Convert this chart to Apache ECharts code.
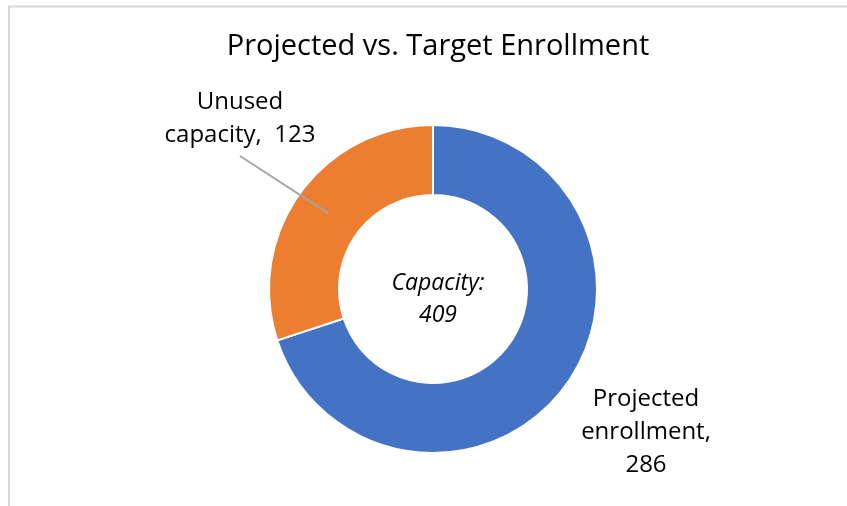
<!DOCTYPE html>
<html><head><meta charset="utf-8">
<script src="https://cdn.jsdelivr.net/npm/echarts@6/dist/echarts.min.js"></script>
<style>html,body{margin:0;padding:0;background:#fff}#c{width:847px;height:506px}</style>
</head><body><div id="c"></div>
<script>
const titleText = 'Projected vs. Target Enrollment';
const categories = ['Projected enrollment', 'Unused capacity'];
const values = [286, 123];
const colors = ['#4472C4', '#ED7D31'];
const centerLabel = 'Capacity:';
const FONT = 'Open Sans';

const total = values.reduce((a, b) => a + b, 0);
const CX = 433, CY = 289, R0 = 94, R1 = 164;
const LABEL_POS = [[646, 432], [240, 119]];

// leader line for the "Unused capacity" slice: from mid-ring along slice mid-angle to below its label
const idx = 1;
const before = values.slice(0, idx).reduce((a, b) => a + b, 0);
const midDeg = 90 - 360 * (before + values[idx] / 2) / total;
const rad = midDeg * Math.PI / 180, rm = (R0 + R1) / 2;
const lineStart = [CX + Math.cos(rad) * rm, CY - Math.sin(rad) * rm];
const lineEnd = [LABEL_POS[idx][0], LABEL_POS[idx][1] + 37];

const chart = echarts.init(document.getElementById('c'));
chart.setOption({
  backgroundColor: '#fff',
  animation: false,
  title: [{
    text: titleText, left: CX, top: 27, textAlign: 'center',
    textStyle: {fontFamily: FONT, fontSize: 29, fontWeight: 'normal', color: '#000'}
  }, {
    text: centerLabel + '\n' + total, left: CX, top: 262, textAlign: 'center',
    textStyle: {fontFamily: FONT, fontSize: 23, fontStyle: 'italic', fontWeight: 'normal', color: '#000', lineHeight: 32}
  }],
  graphic: [{
    type: 'polyline', silent: true,
    shape: {points: [[9, 506], [9, 6.5], [847, 6.5]]},
    style: {stroke: '#d9d9d9', lineWidth: 2, fill: null}
  }, {
    type: 'line', silent: true, z: 10,
    shape: {x1: lineStart[0], y1: lineStart[1], x2: lineEnd[0], y2: lineEnd[1]},
    style: {stroke: '#a6a6a6', lineWidth: 2}
  }],
  series: [{
    type: 'pie',
    center: [CX, CY],
    radius: [R0, R1],
    startAngle: 90,
    clockwise: true,
    avoidLabelOverlap: false,
    itemStyle: {borderColor: '#fff', borderWidth: 2},
    labelLine: {show: false},
    data: categories.map((c, i) => ({
      name: c, value: values[i], itemStyle: {color: colors[i]}
    })),
    label: {
      show: true, position: 'outside',
      fontFamily: FONT, fontSize: 24, color: '#000', align: 'center', lineHeight: 33,
      formatter: p => p.dataIndex === 0 ? 'Projected\nenrollment,\n' + p.value : 'Unused\ncapacity,  ' + p.value
    },
    labelLayout: function (p) {
      const pos = LABEL_POS[p.dataIndex];
      return {x: pos[0], y: pos[1], align: 'center', verticalAlign: 'middle'};
    }
  }]
});
</script></body></html>
